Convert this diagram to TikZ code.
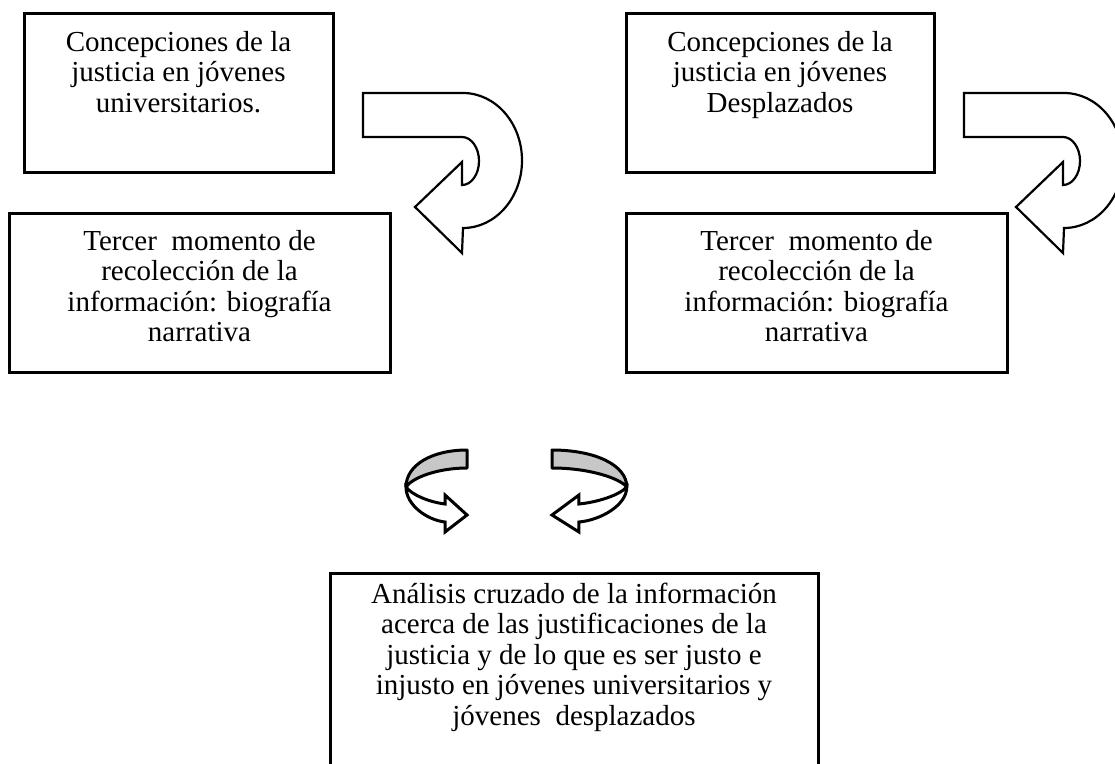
\documentclass[tikz,border=0pt]{standalone}
\usepackage{fontspec}
\setmainfont{Liberation Serif}
\usetikzlibrary{positioning}

\begin{document}
\begin{tikzpicture}[
    x=1pt, y=-1pt,
    box/.style={draw, line width=3pt, align=center, anchor=north, outer sep=0pt,
      font=\fontsize{29}{30.5}\selectfont, inner ysep=18pt},
    uturn/.pic={
      \draw[line width=2.2pt, fill=white] (0,0) -- (100,0)
        arc[start angle=90, end angle=-90, x radius=59pt, y radius=67.5pt]
        -- (99,160) -- (52,114) -- (99,69) -- (99,92)
        arc[start angle=-90, end angle=90, x radius=17pt, y radius=24pt]
        -- (0,44) -- cycle;
    },
    twist/.pic={
      \draw[line width=3pt, fill=black!22, line join=round]
        (0,0) .. controls (-35,0) and (-61,15) .. (-61,37)
        .. controls (-55,28) and (-30,18) .. (0,18) -- cycle;
      \draw[line width=3pt, fill=white]
        (-61,37) .. controls (-61,55) and (-40,70) .. (-22,72)
        -- (-22,82) -- (0,65) -- (-22,45) -- (-22,54)
        .. controls (-38,52) and (-55,45) .. (-61,37) -- cycle;
    }
  ]
\useasboundingbox (0,0) rectangle (1115,763);
\clip (0,0) rectangle (1115,763);

% left column
\node[box, minimum width=309pt, text height=81pt, text depth=42pt] (univ) at (178.5,13)
  {Concepciones de la\\justicia en jóvenes\\universitarios.};
\node[box, minimum width=381pt, inner ysep=17pt, text height=111.5pt, text depth=13.5pt] (tercerU) at (199.5,213)
  {Tercer\ \ momento de\\recolección de la\\información: biografía\\narrativa};

% right column
\node[box, minimum width=308pt, text height=81pt, text depth=42pt] (despl) at (780,13)
  {Concepciones de la\\justicia en jóvenes\\Desplazados};
\node[box, minimum width=381pt, inner ysep=17pt, text height=111.5pt, text depth=13.5pt] (tercerD) at (816.5,213)
  {Tercer\ \ momento de\\recolección de la\\información: biografía\\narrativa};

% cruce
\node[box, minimum width=488pt, inner ysep=10pt, text height=142pt, text depth=60pt] (cruce) at (574,573)
  {Análisis cruzado de la información\\acerca de las justificaciones de la\\justicia y de lo que es ser justo e\\injusto en jóvenes universitarios y\\jóvenes\ \ desplazados};

\pic at (363,93) {uturn};
\pic at (964,93) {uturn};

\pic at (467,450) {twist};
\pic[xscale=-1.226] at (552,450) {twist};

\end{tikzpicture}
\end{document}
